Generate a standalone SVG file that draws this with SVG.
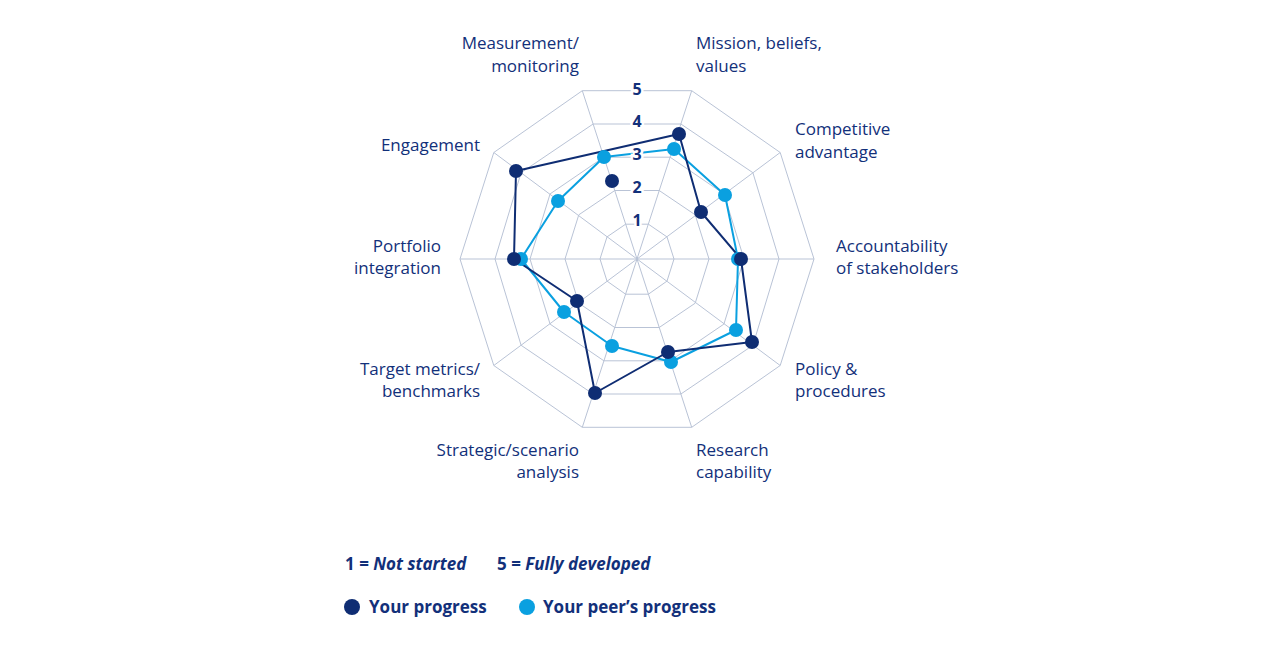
<svg xmlns="http://www.w3.org/2000/svg" width="1280" height="654" viewBox="0 0 1280 654">
<style>
text{font-family:"Open Sans","Noto Sans",sans-serif;fill:#12307a;font-size:17px}
.e{text-anchor:end}
.n{font-weight:bold;text-anchor:middle;font-size:16px;paint-order:stroke;stroke:#fff;stroke-width:5px}
.grid{fill:none;stroke:#b9c3d6;stroke-width:1}
.dk{fill:#0f2d73}.lt{fill:#0aa0e0}
.b{font-weight:bold}
</style>
<rect width="1280" height="654" fill="#fff"/>
<g id="grid" class="grid">
<polygon points="648.4,224.2 667,236.9 674,259 667,281.1 648.4,294.2 625.6,294.2 607,281.1 600,259 607,236.9 625.6,224.2"/>
<polygon points="659.2,190.5 695.2,214.8 709,259 695.2,303.2 659.2,327.5 614.8,327.5 578.8,303.2 565,259 578.8,214.8 614.8,190.5"/>
<polygon points="670.1,157.2 723.9,193.9 744,259 723.9,324.1 670.1,360.8 603.9,360.8 550.1,324.1 530,259 550.1,193.9 603.9,157.2"/>
<polygon points="680.9,124 752.9,172.7 779,259 752.9,345.3 680.9,394 593.1,394 521.1,345.3 495,259 521.1,172.7 593.1,124"/>
<polygon points="691.7,90.7 780.2,152.5 814,259 780.2,365.5 691.7,427.3 582.3,427.3 493.8,365.5 460,259 493.8,152.5 582.3,90.7"/>
<path d="M637 259L691.7 90.7M637 259L780.2 152.5M637 259L814 259M637 259L780.2 365.5M637 259L691.7 427.3M637 259L582.3 427.3M637 259L493.8 365.5M637 259L460 259M637 259L493.8 152.5M637 259L582.3 90.7"/>
</g>
<g id="connectors" fill="none" stroke-width="2" stroke-linejoin="round">
<polyline stroke="#0aa0e0" points="604,157 674,149 725,195 738,259 736,330 671,362 612,346 564,312 521,259 558,201 604,157"/>
<polyline stroke="#0f2d73" points="516,171 679,134 701,212 741,259 752,342 668,352 595,393 577,301 514,259 516,171"/>
</g>
<g id="scale">
<text class="n" x="637" y="95">5</text>
<text class="n" x="637" y="127">4</text>
<text class="n" x="637" y="160">3</text>
<text class="n" x="637" y="193">2</text>
<text class="n" x="637" y="226">1</text>
</g>
<g id="peer-points" class="lt">
<circle cx="674" cy="149" r="7"/><circle cx="725" cy="195" r="7"/><circle cx="738" cy="259" r="7"/><circle cx="736" cy="330" r="7"/><circle cx="671" cy="362" r="7"/><circle cx="612" cy="346" r="7"/><circle cx="564" cy="312" r="7"/><circle cx="521" cy="259" r="7"/><circle cx="558" cy="201" r="7"/><circle cx="604" cy="157" r="7"/>
</g>
<g id="your-points" class="dk">
<circle cx="679" cy="134" r="7"/><circle cx="701" cy="212" r="7"/><circle cx="741" cy="259" r="7"/><circle cx="752" cy="342" r="7"/><circle cx="668" cy="352" r="7"/><circle cx="595" cy="393" r="7"/><circle cx="577" cy="301" r="7"/><circle cx="514" cy="259" r="7"/><circle cx="516" cy="171" r="7"/><circle cx="612" cy="181" r="7"/>
</g>
<g id="labels">
<text class="e" x="579" y="49">Measurement/</text><text class="e" x="579" y="72">monitoring</text>
<text x="696" y="49">Mission, beliefs,</text><text x="696" y="72">values</text>
<text x="795" y="135">Competitive</text><text x="795" y="158">advantage</text>
<text x="836" y="252">Accountability</text><text x="836" y="274">of stakeholders</text>
<text x="795" y="375">Policy &amp;</text><text x="795" y="397">procedures</text>
<text x="696" y="456">Research</text><text x="696" y="478">capability</text>
<text class="e" x="579" y="456">Strategic/scenario</text><text class="e" x="579" y="478">analysis</text>
<text class="e" x="480" y="375">Target metrics/</text><text class="e" x="480" y="397">benchmarks</text>
<text class="e" x="441" y="252">Portfolio</text><text class="e" x="441" y="274">integration</text>
<text class="e" x="480" y="151">Engagement</text>
</g>
<g id="legend">
<text class="b" x="345" y="570">1 = <tspan font-style="italic">Not started</tspan></text>
<text class="b" x="497" y="570">5 = <tspan font-style="italic">Fully developed</tspan></text>
<circle class="dk" cx="352" cy="607" r="8"/>
<text class="b" x="369" y="613">Your progress</text>
<circle class="lt" cx="527" cy="607" r="8"/>
<text class="b" x="543" y="613">Your peer’s progress</text>
</g>
</svg>
